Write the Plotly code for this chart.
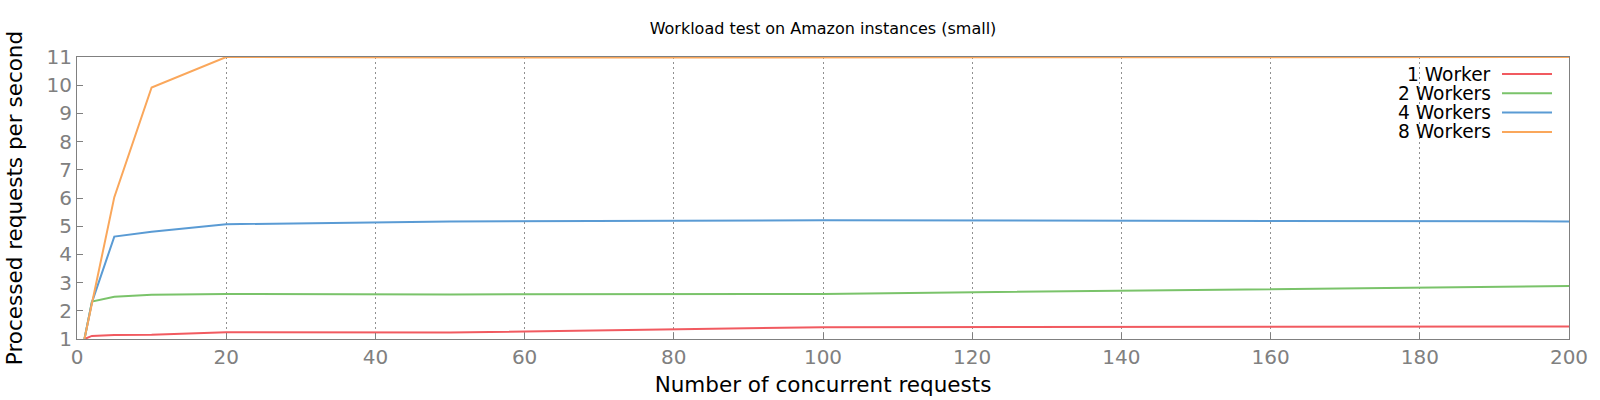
import plotly.graph_objects as go

requests = [1, 2, 5, 10, 20, 50, 100, 200]
series_names = ["1 Worker", "2 Workers", "4 Workers", "8 Workers"]
w1 = [1.0, 1.11, 1.14, 1.15, 1.24, 1.23, 1.42, 1.44]
w2 = [1.0, 2.33, 2.50, 2.57, 2.60, 2.58, 2.60, 2.88]
w4 = [1.0, 2.30, 4.63, 4.80, 5.07, 5.17, 5.21, 5.17]
w8 = [1.0, 2.25, 6.03, 9.92, 11.0, 10.98, 10.98, 11.0]
colors = ["#F15A60", "#7AC36A", "#5A9BD4", "#FAA75B"]
x_ticks = list(range(0, 201, 20))
y_ticks = list(range(1, 12))

FONT = "DejaVu Sans"
L, R, T, B = 77, 31, 57, 61
PW = 1600 - L - R
PH = 400 - T - B

fig = go.Figure()
for name, ys, c in zip(series_names, [w1, w2, w4, w8], colors):
    fig.add_trace(go.Scatter(x=requests, y=ys, mode="lines", name=name,
                             line=dict(color=c, width=2), showlegend=False))

# custom legend: text right, sample line on the right
leg_y0 = 1 - (74 - T) / PH
step = 19.3 / PH
for i, (name, c) in enumerate(zip(series_names, colors)):
    yy = leg_y0 - i * step
    fig.add_annotation(xref="paper", yref="paper", x=(1493 - L) / PW, y=yy,
                       text=name, showarrow=False, xanchor="right", yanchor="middle",
                       font=dict(family=FONT, size=18.6, color="black"))
    fig.add_shape(type="line", xref="paper", yref="paper",
                  x0=(1502 - L) / PW, x1=(1552 - L) / PW, y0=yy, y1=yy,
                  line=dict(color=c, width=2))

fig.update_layout(
    width=1600, height=400,
    margin=dict(l=L, r=R, t=T, b=B, autoexpand=False),
    paper_bgcolor="white", plot_bgcolor="white",
    title=dict(text="Workload test on Amazon instances (small)", x=0.5, xref="paper",
               y=1 - 28 / 400, yanchor="middle", xanchor="center",
               font=dict(family=FONT, size=16, color="black")),
    font=dict(family=FONT),
)
fig.update_xaxes(range=[0, 200], tickvals=x_ticks, ticks="inside", ticklen=6,
                 tickcolor="#808080", showline=True, linecolor="#808080", linewidth=1,
                 mirror=True, showgrid=True, gridcolor="#909090", griddash="2px,3px",
                 gridwidth=1, zeroline=False, automargin=False,
                 tickfont=dict(family=FONT, size=20, color="#808080"),
                 title=dict(text="Number of concurrent requests", standoff=8,
                            font=dict(family=FONT, size=21.5, color="black")))
fig.update_yaxes(range=[1, 11], tickvals=y_ticks, ticks="inside", ticklen=6,
                 tickcolor="#808080", showline=True, linecolor="#808080", linewidth=1,
                 mirror=True, showgrid=False, zeroline=False, automargin=False,
                 tickfont=dict(family=FONT, size=20, color="#808080"),
                 title=dict(text="Processed requests per second", standoff=18,
                            font=dict(family=FONT, size=21.5, color="black")))

fig.write_html("out.html", config={"displayModeBar": False},
               post_script="document.body.style.margin='0';")
